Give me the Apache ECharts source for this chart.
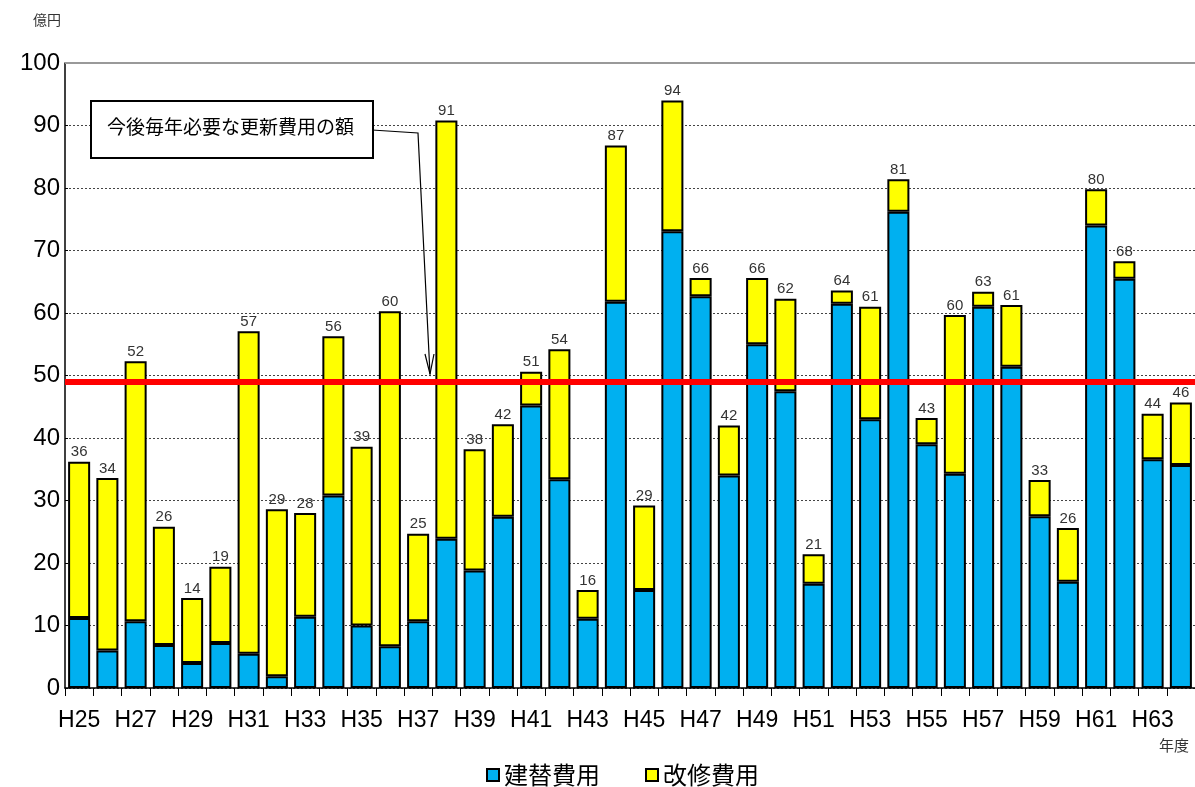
<!DOCTYPE html>
<html lang="ja">
<head>
<meta charset="utf-8">
<title>更新費用の推移</title>
<script src="https://cdn.jsdelivr.net/npm/echarts@6.0.0/dist/echarts.min.js"></script>
<style>
  html, body { margin: 0; padding: 0; background: #fff; }
  #chart { width: 1195px; height: 787px; }
</style>
</head>
<body>
<div id="chart"></div>
<script>
// 年度
const years = [
  "H25", "H26", "H27", "H28", "H29", "H30", "H31", "H32", "H33", "H34",
  "H35", "H36", "H37", "H38", "H39", "H40", "H41", "H42", "H43", "H44",
  "H45", "H46", "H47", "H48", "H49", "H50", "H51", "H52", "H53", "H54",
  "H55", "H56", "H57", "H58", "H59", "H60", "H61", "H62", "H63", "H64",
];

// 建替費用（億円）
const rebuildCost = [
  11.2, 6.0, 10.7, 6.9, 4.0, 7.2, 5.5, 1.9, 11.4, 30.8,
  10.0, 6.7, 10.7, 23.9, 18.8, 27.4, 45.2, 33.4, 11.1, 61.8,
  15.7, 73.1, 62.7, 34.0, 55.0, 47.5, 16.7, 61.5, 43.0, 76.2,
  39.0, 34.3, 61.0, 51.4, 27.5, 17.0, 74.0, 65.5, 36.6, 35.7,
];

// 改修費用（億円）
const repairCost = [
  25.0, 27.6, 41.6, 18.9, 10.4, 12.2, 51.6, 26.7, 16.6, 25.5,
  28.6, 53.6, 14.0, 66.9, 19.4, 14.8, 5.4, 20.8, 4.6, 25.0,
  13.5, 20.9, 2.9, 8.0, 10.6, 14.8, 4.7, 2.1, 18.0, 5.2,
  4.2, 25.4, 2.4, 9.9, 5.8, 8.6, 5.8, 2.8, 7.3, 10.0,
];

// 今後毎年必要な更新費用の額
const annualNeed = 49;

const yTicks = [0, 10, 20, 30, 40, 50, 60, 70, 80, 90, 100];

const numFont = "'Liberation Sans', Arial, sans-serif";
const jpFont = "'Noto Sans CJK JP', sans-serif";

const chart = echarts.init(document.getElementById("chart"), null, { renderer: "canvas" });

chart.setOption({
  animation: false,
  backgroundColor: "#fff",
  grid: { left: 65, top: 63, width: 1136, height: 625 },
  legend: {
    left: 486,
    top: 763,
    padding: 0,
    itemWidth: 12,
    itemHeight: 12,
    itemGap: 45,
    icon: "rect",
    textStyle: { fontFamily: jpFont, fontSize: 24, color: "#000" },
    data: ["建替費用", "改修費用"],
  },
  xAxis: {
    type: "category",
    data: years,
    boundaryGap: true,
    axisLine: { lineStyle: { color: "#000", width: 1.5 } },
    axisTick: { show: true, interval: 0, length: 8, lineStyle: { color: "#000" } },
    axisLabel: {
      interval: 1,
      margin: 21,
      fontFamily: numFont,
      fontSize: 23,
      color: "#000",
    },
    name: "年度",
    nameLocation: "end",
    nameGap: 0,
    nameTextStyle: {
      fontFamily: jpFont,
      fontSize: 15,
      color: "#333",
      align: "right",
      verticalAlign: "top",
      padding: [50, 6, 0, 0],
    },
  },
  yAxis: {
    type: "value",
    min: 0,
    max: 100,
    interval: 10,
    axisLine: { show: true, lineStyle: { color: "#000", width: 1.5 } },
    axisTick: { show: true, inside: true, length: 3, lineStyle: { color: "#000" } },
    splitLine: { lineStyle: { color: "#444", type: [2, 2], width: 1 } },
    axisLabel: {
      margin: 5,
      fontFamily: numFont,
      fontSize: 24,
      color: "#000",
      formatter: (v) => (yTicks.includes(v) ? String(v) : ""),
    },
    name: "億円",
    nameLocation: "end",
    nameGap: 0,
    nameTextStyle: {
      fontFamily: jpFont,
      fontSize: 14,
      color: "#333",
      align: "left",
      verticalAlign: "bottom",
      padding: [0, 0, 36, -32],
    },
  },
  series: [
    {
      name: "建替費用",
      type: "bar",
      stack: "cost",
      barWidth: "78%",
      data: rebuildCost,
      itemStyle: { color: "#00B0F0", borderColor: "#000", borderWidth: 2 },
      markLine: {
        silent: true,
        symbol: "none",
        label: { show: false },
        data: [
          { yAxis: 100, lineStyle: { color: "#999", width: 2, type: "solid" } },
        ],
      },
    },
    {
      name: "改修費用",
      type: "bar",
      stack: "cost",
      barWidth: "78%",
      data: repairCost,
      itemStyle: { color: "#FFFF00", borderColor: "#000", borderWidth: 2 },
      label: {
        show: true,
        position: "top",
        distance: 2,
        fontFamily: numFont,
        fontSize: 15,
        color: "#333",
        formatter: (p) => String(Math.round(rebuildCost[p.dataIndex] + repairCost[p.dataIndex])),
      },
      markLine: {
        silent: true,
        symbol: "none",
        label: { show: false },
        z: 10,
        data: [
          { yAxis: annualNeed, lineStyle: { color: "#FF0000", width: 6, type: "solid" } },
        ],
      },
    },
  ],
  graphic: [
    // 吹き出し
    {
      type: "rect",
      left: 90,
      top: 100,
      shape: { width: 282, height: 57 },
      style: { fill: "#fff", stroke: "#000", lineWidth: 2 },
      z: 20,
    },
    {
      type: "text",
      left: 107,
      top: 117,
      style: { text: "今後毎年必要な更新費用の額", font: "19px " + jpFont, fill: "#000" },
      z: 21,
    },
    {
      type: "polyline",
      shape: { points: [[372, 130], [418, 133], [430, 374]] },
      style: { stroke: "#000", lineWidth: 1.2, fill: null },
      z: 20,
    },
    {
      type: "polyline",
      shape: { points: [[425, 354], [430, 374], [434, 354]] },
      style: { stroke: "#000", lineWidth: 1.2, fill: null },
      z: 20,
    },
  ],
});
</script>
</body>
</html>
